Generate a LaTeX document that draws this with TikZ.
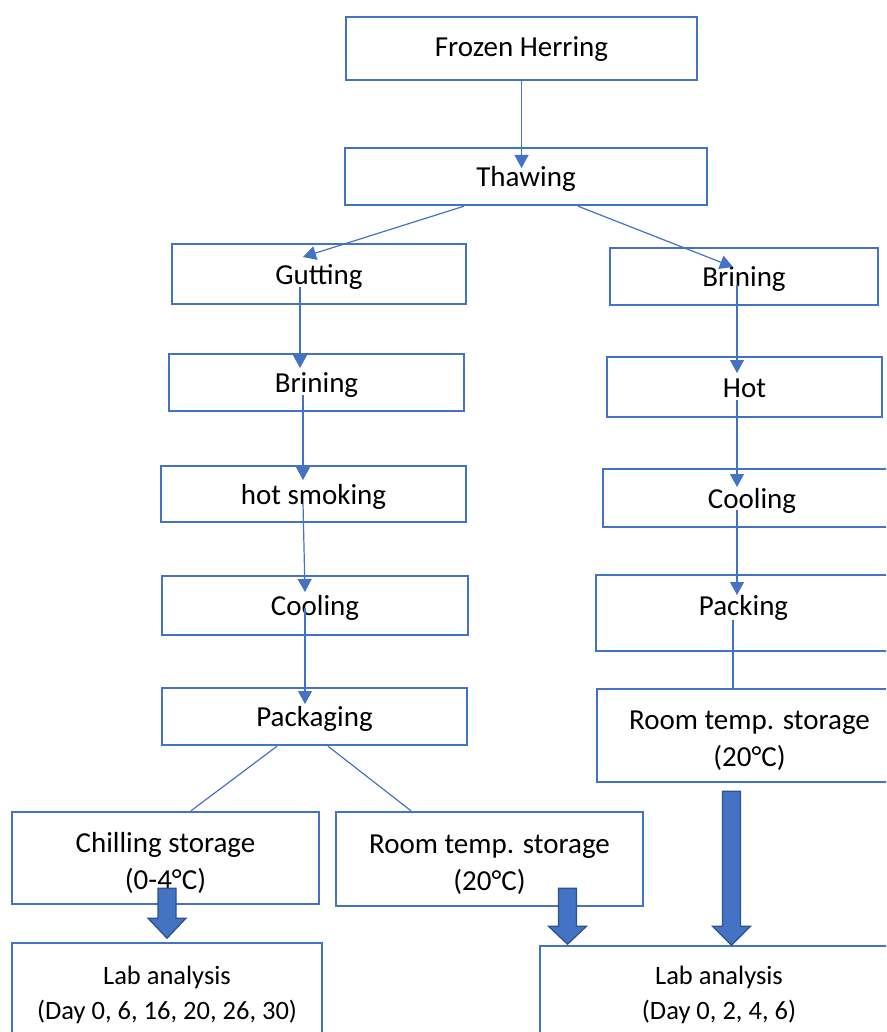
\documentclass[tikz,border=0pt]{standalone}
\usepackage{fontspec}
\setmainfont{Carlito}
\usetikzlibrary{arrows.meta,calc}
\definecolor{boxblue}{HTML}{4472C4}
\definecolor{edgeblue}{HTML}{2F528F}

\newcommand{\st}{\rule[-7pt]{0pt}{34pt}}
\newcommand{\sttop}[1]{\rule{0pt}{#1}}
\newcommand{\blockarrow}[3]{%
  \draw[blk] ($(#1)+(-9,0)$) -- ++(18,0) -- ++(0,#2) -- ++(10,0) -- ++(-19,#3)
    -- ++(-19,-#3) -- ++(10,0) -- cycle;}

\begin{document}
\begin{tikzpicture}
  [x=1pt, y=-1pt,
   box/.style={draw=boxblue, line width=2.4pt, rectangle, inner sep=0pt, align=center,
     font=\fontsize{29}{37}\selectfont},
   labbox/.style={box, font=\fontsize{26.5}{35}\selectfont},
   conn/.style={draw=boxblue, line width=1.2pt, -{Triangle[width=14pt,length=13pt]}},
   link/.style={draw=boxblue, line width=1.2pt},
   blk/.style={fill=boxblue, draw=edgeblue, line width=1.3pt, line join=miter}]
  \useasboundingbox (0,0) rectangle (886,1032);
  \clip (0,0) rectangle (886,1032);

  \node[box, minimum width=351pt, minimum height=63pt] (frozen) at (521.5,48.5) {\rule[-7pt]{0pt}{30pt}Frozen Herring};
  \node[box, minimum width=362pt, minimum height=57pt] (thaw) at (526,176.5) {\st Thawing};

  \node[box, minimum width=294pt, minimum height=60pt] (gut) at (319,274) {\st Gutting};
  \node[box, minimum width=295pt, minimum height=57pt] (brineL) at (316.5,382.5) {\st Brining};
  \node[box, minimum width=305pt, minimum height=56pt] (smoke) at (313.5,494) {\st hot smoking};
  \node[box, minimum width=306pt, minimum height=59pt] (coolL) at (315,605.5) {\st Cooling};
  \node[box, minimum width=305pt, minimum height=57pt] (packL) at (314.5,716.5) {\st Packaging};
  \node[box, minimum width=307pt, minimum height=92pt] (chill) at (165.5,858) {\sttop{30pt}Chilling storage\\(0-4°C)};
  \node[box, minimum width=307pt, minimum height=94pt] (roomM) at (489.5,859) {\sttop{30pt}Room temp. storage\\(20°C)};
  \node[labbox, minimum width=310pt, minimum height=99pt] (labL) at (167,992.5) {\sttop{24pt}Lab analysis\\(Day 0, 6, 16, 20, 26, 30)};

  \node[box, minimum width=268pt, minimum height=57pt] (brineR) at (744,276.5) {\st Brining};
  \node[box, minimum width=275pt, minimum height=60pt] (hot) at (744.5,387) {\st Hot};
  \node[box, minimum width=298pt, minimum height=58pt] (coolR) at (752,498) {\st Cooling};
  \node[box, minimum width=295pt, minimum height=76pt, text depth=16pt] (packR) at (743.5,613) {Packing};
  \node[box, minimum width=305pt, minimum height=93pt] (roomR) at (749.5,735.5) {\sttop{30pt}Room temp. storage\\(20°C)};
  \node[labbox, minimum width=358pt, minimum height=93pt] (labR) at (719,992.5) {\sttop{24pt}Lab analysis\\(Day 0, 2, 4, 6)};

  \draw[conn] (frozen.south) -- ([yshift=8.5pt]thaw.center -| frozen.south);
  \draw[conn] ([xshift=-62pt]thaw.south) -- ([xshift=-16pt,yshift=17pt]gut.center);
  \draw[conn] ([xshift=52pt]thaw.south) -- ([xshift=-11pt,yshift=9.5pt]brineR.center);

  \draw[conn] ([xshift=-19pt,yshift=-13pt]gut.center) -- ([xshift=-16.5pt,yshift=14.5pt]brineL.center);
  \draw[conn] ([xshift=-13.5pt,yshift=-12.5pt]brineL.center) -- ([xshift=-10.5pt,yshift=14pt]smoke.center);
  \draw[conn] ([xshift=-10.5pt,yshift=-9pt]smoke.center) -- ([xshift=-10pt,yshift=13.5pt]coolL.center);
  \draw[conn] ([xshift=-10pt,yshift=-2.5pt]coolL.center) -- ([xshift=-9.5pt,yshift=12.5pt]packL.center);
  \draw[link] ([xshift=-37.5pt]packL.south) -- ([xshift=25.5pt]chill.north);
  \draw[link] ([xshift=13.5pt]packL.south) -- ([xshift=-78.5pt]roomM.north);

  \draw[conn] ([xshift=-7pt,yshift=-8.5pt]brineR.center) -- ([xshift=-7.5pt,yshift=14pt]hot.center);
  \draw[conn] ([xshift=-7.5pt,yshift=-13pt]hot.center) -- ([xshift=-15pt,yshift=11pt]coolR.center);
  \draw[conn] ([xshift=-15pt,yshift=-12pt]coolR.center) -- ([xshift=-6.5pt,yshift=18pt]packR.center);
  \draw[link] ([xshift=-10.5pt,yshift=-7pt]packR.center) -- ([xshift=-16.5pt]roomR.north);

  \coordinate (chillout) at ([xshift=1.5pt,yshift=17pt]chill.south);
  \coordinate (roomMout) at ([xshift=78pt,yshift=19pt]roomM.south);
  \coordinate (roomRout) at ([xshift=-18pt,yshift=-8pt]roomR.south);
  \blockarrow{chillout}{30}{20}
  \blockarrow{roomMout}{38}{18}
  \blockarrow{roomRout}{135}{19}
\end{tikzpicture}
\end{document}
